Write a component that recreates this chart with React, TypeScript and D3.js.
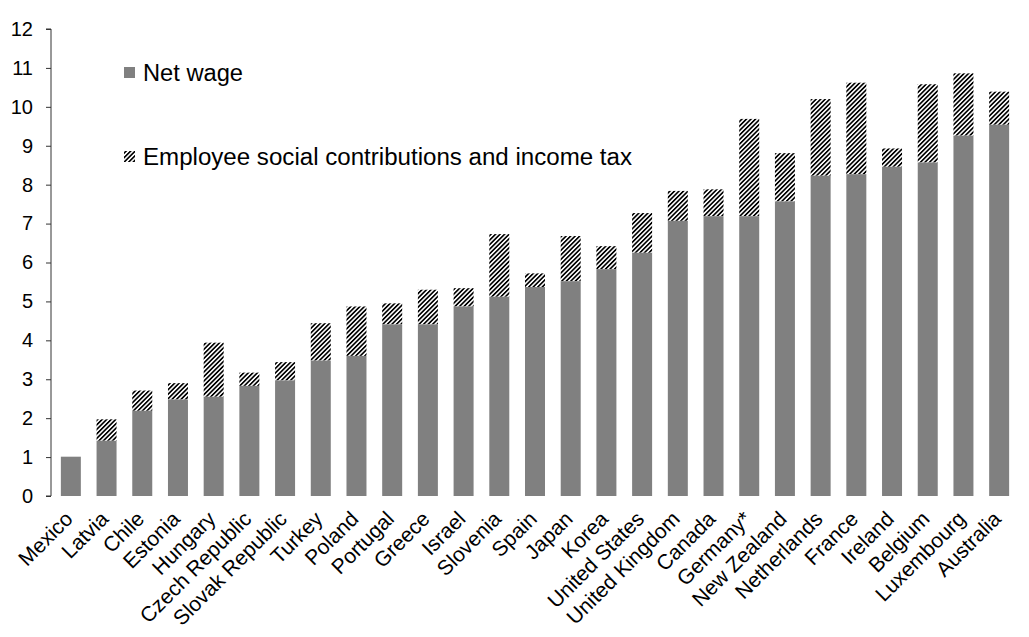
import { useEffect, useRef } from 'react';
import * as d3 from 'd3';

const countries = [
  'Mexico', 'Latvia', 'Chile', 'Estonia', 'Hungary', 'Czech Republic',
  'Slovak Republic', 'Turkey', 'Poland', 'Portugal', 'Greece', 'Israel',
  'Slovenia', 'Spain', 'Japan', 'Korea', 'United States', 'United Kingdom',
  'Canada', 'Germany*', 'New Zealand', 'Netherlands', 'France', 'Ireland',
  'Belgium', 'Luxembourg', 'Australia',
];

const netWage = [
  1.01, 1.42, 2.19, 2.48, 2.55, 2.83, 2.97, 3.48, 3.6, 4.41, 4.41, 4.87,
  5.12, 5.37, 5.52, 5.83, 6.25, 7.07, 7.19, 7.19, 7.57, 8.23, 8.27, 8.46,
  8.57, 9.26, 9.54,
];

const taxTotal = [
  1.01, 1.97, 2.71, 2.9, 3.94, 3.17, 3.44, 4.44, 4.87, 4.95, 5.3, 5.34,
  6.73, 5.72, 6.68, 6.42, 7.27, 7.84, 7.88, 9.69, 8.81, 10.2, 10.62, 8.93,
  10.58, 10.86, 10.39,
];

const yTicks = d3.range(0, 13);

const W = 1029;
const H = 637;
const margin = { top: 29, right: 12, bottom: 141, left: 51 };
const font = '"Liberation Sans", Arial, sans-serif';

export default function App() {
  const svgRef = useRef<SVGSVGElement>(null);

  useEffect(() => {
    if (!svgRef.current) return;
    const svg = d3.select(svgRef.current);
    svg.selectAll('*').remove();

    const defs = svg.append('defs');
    const pat = defs
      .append('pattern')
      .attr('id', 'hatch')
      .attr('patternUnits', 'userSpaceOnUse')
      .attr('width', 3.2)
      .attr('height', 3.2)
      .attr('patternTransform', 'rotate(45)');
    pat.append('rect').attr('width', 3.2).attr('height', 3.2).attr('fill', '#fff');
    pat
      .append('line')
      .attr('x1', 0.8)
      .attr('x2', 0.8)
      .attr('y1', 0)
      .attr('y2', 3.2)
      .attr('stroke', '#000')
      .attr('stroke-width', 1.7);

    const x = d3
      .scaleBand()
      .domain(countries)
      .range([margin.left + 2, W - margin.right])
      .paddingInner(0.44)
      .paddingOuter(0.22);

    const y = d3
      .scaleLinear()
      .domain([0, 12])
      .range([H - margin.bottom, margin.top]);

    const rows = countries.map((c, i) => ({
      c,
      net: netWage[i],
      total: Math.max(taxTotal[i], netWage[i]),
    }));

    // hatched part (employee contributions + income tax)
    svg
      .append('g')
      .selectAll('rect')
      .data(rows.filter((d) => d.total > d.net))
      .join('rect')
      .attr('x', (d) => x(d.c)!)
      .attr('width', x.bandwidth())
      .attr('y', (d) => y(d.total))
      .attr('height', (d) => y(d.net) - y(d.total))
      .attr('fill', 'url(#hatch)');

    // net wage
    svg
      .append('g')
      .selectAll('rect')
      .data(rows)
      .join('rect')
      .attr('x', (d) => x(d.c)!)
      .attr('width', x.bandwidth())
      .attr('y', (d) => y(d.net))
      .attr('height', (d) => y(0) - y(d.net))
      .attr('fill', '#808080');

    // y axis
    const yAxis = svg
      .append('g')
      .attr('transform', `translate(${margin.left},0)`)
      .call(
        d3
          .axisLeft(y)
          .tickValues(yTicks)
          .tickSize(5)
          .tickPadding(13)
          .tickFormat(d3.format('d')),
      );
    yAxis.select('.domain').attr('stroke', '#333').attr('d', `M-5,${y(12)}H0V${y(0)}H-5`);
    yAxis.selectAll('.tick line').attr('stroke', '#333');
    yAxis
      .selectAll('.tick text')
      .attr('font-family', font)
      .attr('font-size', 20)
      .attr('fill', '#000');

    // category labels
    svg
      .append('g')
      .selectAll('text')
      .data(countries)
      .join('text')
      .attr(
        'transform',
        (d) => `translate(${x(d)! + x.bandwidth() / 2 - 2},${y(0) + 19}) rotate(-45)`,
      )
      .attr('text-anchor', 'end')
      .attr('dy', '0.35em')
      .attr('font-family', font)
      .attr('font-size', 21)
      .attr('fill', '#000')
      .text((d) => d);

    // legend
    const legend = svg.append('g');
    const items = [
      { label: 'Net wage', fill: '#808080', y: 73, len: 100 },
      { label: 'Employee social contributions and income tax', fill: 'url(#hatch)', y: 157, len: 489 },
    ];
    items.forEach((it) => {
      legend
        .append('rect')
        .attr('x', 124)
        .attr('y', it.y - 6)
        .attr('width', 11)
        .attr('height', 11)
        .attr('fill', it.fill);
      legend
        .append('text')
        .attr('x', 143)
        .attr('y', it.y + 8)
        .attr('font-family', font)
        .attr('font-size', 23)
        .attr('textLength', it.len)
        .attr('lengthAdjust', 'spacingAndGlyphs')
        .attr('fill', '#000')
        .text(it.label);
    });
  }, []);

  return (
    <svg
      ref={svgRef}
      width={W}
      height={H}
      style={{ position: 'absolute', left: 0, top: 0, background: '#fff' }}
    />
  );
}
